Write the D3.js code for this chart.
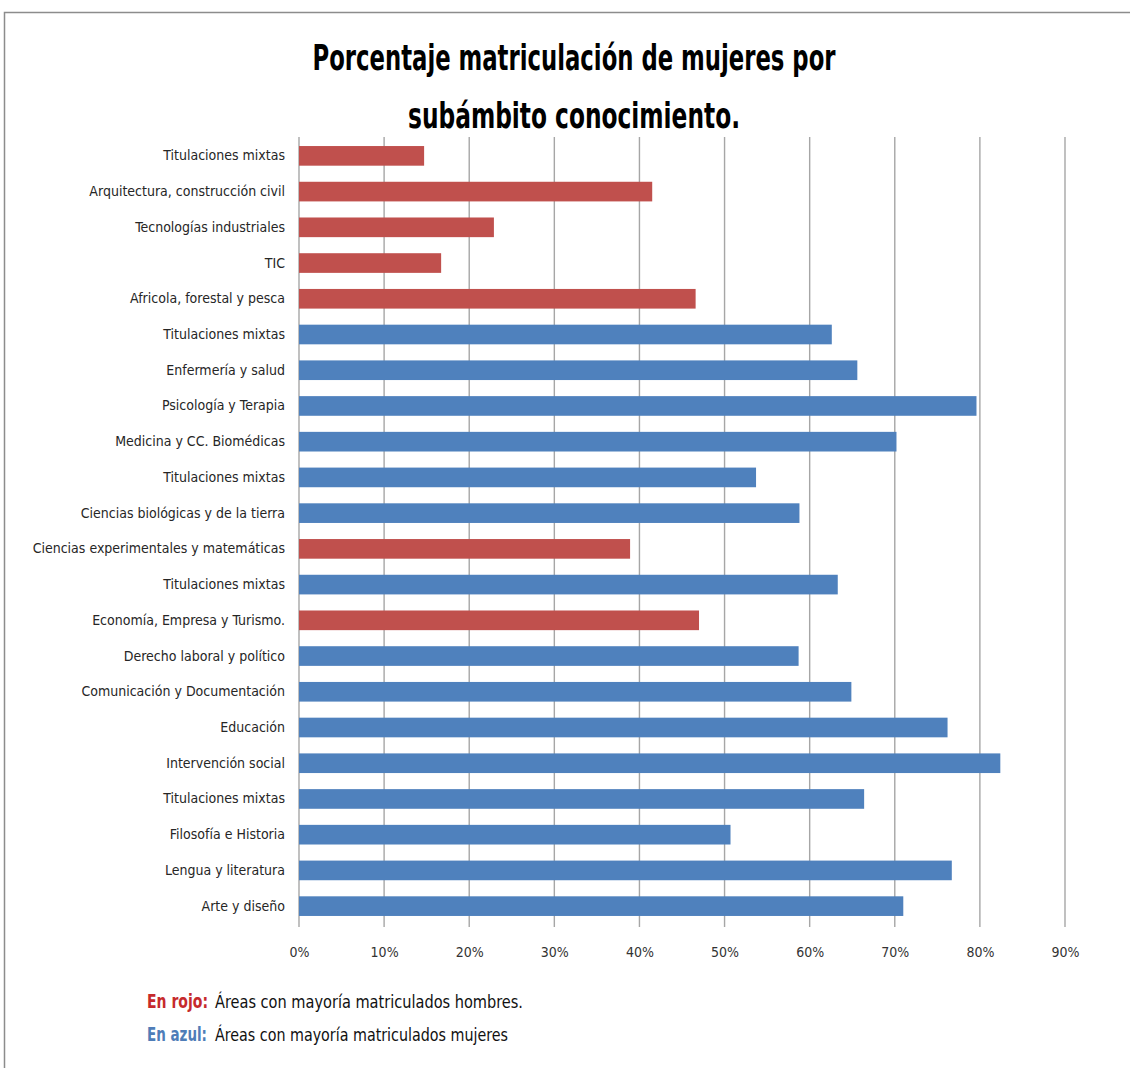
<!DOCTYPE html>
<html>
<head>
<meta charset="utf-8">
<script src="https://cdn.jsdelivr.net/npm/d3@7"></script>
<style>
  html, body { margin: 0; padding: 0; background: #fff; }
  svg { display: block; }
  .cat text { font-family: "DejaVu Sans Condensed", "Liberation Sans", sans-serif; }
</style>
</head>
<body>
<svg id="chart" width="1130" height="1068"></svg>
<script>
// Subáreas de conocimiento, de arriba abajo
const categories = [
  "Titulaciones mixtas",
  "Arquitectura, construcción civil",
  "Tecnologías industriales",
  "TIC",
  "Africola, forestal y pesca",
  "Titulaciones mixtas",
  "Enfermería y salud",
  "Psicología y Terapia",
  "Medicina y CC. Biomédicas",
  "Titulaciones mixtas",
  "Ciencias biológicas y de la tierra",
  "Ciencias experimentales y matemáticas",
  "Titulaciones mixtas",
  "Economía, Empresa y Turismo.",
  "Derecho laboral y político",
  "Comunicación y Documentación",
  "Educación",
  "Intervención social",
  "Titulaciones mixtas",
  "Filosofía e Historia",
  "Lengua y literatura",
  "Arte y diseño"
];

// Porcentaje de mujeres matriculadas
const values = [
  0.147, 0.415, 0.229, 0.167, 0.466,
  0.626, 0.656, 0.796, 0.702, 0.537,
  0.588, 0.389, 0.633, 0.470, 0.587,
  0.649, 0.762, 0.824, 0.664, 0.507,
  0.767, 0.710
];

// Mayoría: "h" = hombres (rojo), "m" = mujeres (azul)
const majority = [
  "h", "h", "h", "h", "h",
  "m", "m", "m", "m", "m",
  "m", "h", "m", "h", "m",
  "m", "m", "m", "m", "m",
  "m", "m"
];

const tickValues = [0, 0.1, 0.2, 0.3, 0.4, 0.5, 0.6, 0.7, 0.8, 0.9];
const tickLabels = ["0%", "10%", "20%", "30%", "40%", "50%", "60%", "70%", "80%", "90%"];

const titleLines = ["Porcentaje matriculación de mujeres por", "subámbito conocimiento."];
const legendItems = [
  { key: "En rojo:", text: "Áreas con mayoría matriculados hombres.", color: "#c62a2c" },
  { key: "En azul:", text: "Áreas con mayoría matriculados mujeres", color: "#4f7db8" }
];

const barColor = { h: "#c0504d", m: "#4f81bd" };

const svg = d3.select("#chart");

// Marco exterior
svg.append("path")
  .attr("d", "M4.5,1068 V12.5 H1130")
  .attr("fill", "none")
  .attr("stroke", "#8c8c8c")
  .attr("stroke-width", 1.5);

const x = d3.scaleLinear().domain([0, 0.9]).range([299, 1065]);
const y = d3.scaleBand()
  .domain(d3.range(categories.length))
  .range([138, 924])
  .paddingInner(0.45)
  .paddingOuter(0.225);

// Líneas de división verticales
svg.append("g")
  .selectAll("line")
  .data(tickValues)
  .join("line")
  .attr("x1", d => x(d)).attr("x2", d => x(d))
  .attr("y1", 137).attr("y2", 927)
  .attr("stroke", "#a6a6a6")
  .attr("stroke-width", 1.4);

// Barras
svg.append("g")
  .selectAll("rect")
  .data(values)
  .join("rect")
  .attr("x", x(0))
  .attr("y", (d, i) => y(i))
  .attr("width", d => x(d) - x(0))
  .attr("height", y.bandwidth())
  .attr("fill", (d, i) => barColor[majority[i]]);

// Eje de categorías
const yAxis = d3.axisLeft(y)
  .tickSize(0)
  .tickPadding(14)
  .tickFormat(i => categories[i]);
const gy = svg.append("g")
  .attr("class", "cat")
  .attr("transform", `translate(${x(0)},0)`)
  .call(yAxis);
gy.select(".domain").remove();
gy.selectAll("text")
  .attr("font-size", 14)
  .attr("fill", "#262626");

// Eje de valores
const xAxis = d3.axisBottom(x)
  .tickValues(tickValues)
  .tickSize(0)
  .tickPadding(0)
  .tickFormat((d, i) => tickLabels[i]);
const gx = svg.append("g")
  .attr("class", "cat")
  .attr("transform", "translate(0,947)")
  .call(xAxis);
gx.select(".domain").remove();
gx.selectAll("text")
  .attr("font-size", 14)
  .attr("fill", "#333");

// Título
const titleWidths = [523, 332];
svg.append("g")
  .selectAll("text")
  .data(titleLines)
  .join("text")
  .attr("x", 574)
  .attr("y", (d, i) => 70 + i * 58)
  .attr("text-anchor", "middle")
  .attr("font-family", "'DejaVu Sans Condensed', sans-serif")
  .attr("font-weight", "bold")
  .attr("font-size", 35)
  .attr("fill", "#000")
  .attr("textLength", (d, i) => titleWidths[i])
  .attr("lengthAdjust", "spacingAndGlyphs")
  .text(d => d);

// Leyenda
const legend = svg.append("g");
const legendKeyW = [61, 60];
const legendTextW = [308, 293];
legendItems.forEach((item, i) => {
  const yy = 1008 + i * 33;
  legend.append("text")
    .attr("x", 147).attr("y", yy)
    .attr("font-family", "'DejaVu Sans Condensed', sans-serif")
    .attr("font-weight", "bold")
    .attr("font-size", 19)
    .attr("fill", item.color)
    .attr("textLength", legendKeyW[i])
    .attr("lengthAdjust", "spacingAndGlyphs")
    .text(item.key);
  legend.append("text")
    .attr("x", 215).attr("y", yy)
    .attr("font-family", "'DejaVu Sans Condensed', sans-serif")
    .attr("font-size", 17)
    .attr("fill", "#111")
    .attr("textLength", legendTextW[i])
    .attr("lengthAdjust", "spacingAndGlyphs")
    .text(item.text);
});
</script>
</body>
</html>
